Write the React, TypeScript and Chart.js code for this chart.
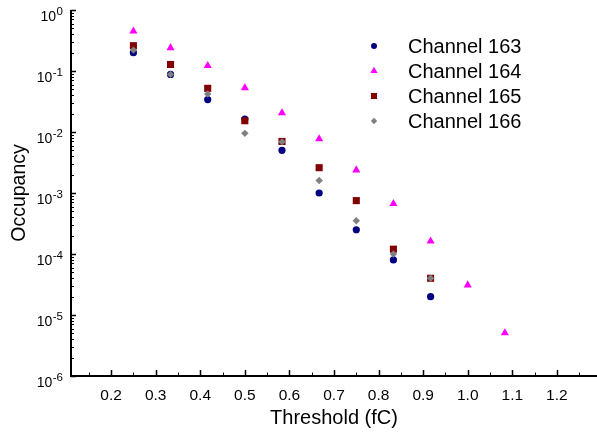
import React, { useEffect, useRef } from "react";
import { Chart, registerables } from "chart.js";

Chart.register(...registerables);

// ---- data ----
const thresholds = [0.25, 0.3333, 0.4167, 0.5, 0.5833, 0.6667, 0.75, 0.8333, 0.9167, 1.0, 1.0833];
const ch163 = [0.2, 0.088, 0.034, 0.0163, 0.005, 0.001, 0.00025, 0.00008, 0.00002];
const ch164 = [0.45, 0.24, 0.122, 0.053, 0.0205, 0.0077, 0.00238, 0.00067, 0.000162, 0.000031, 0.0000051];
const ch165 = [0.26, 0.128, 0.052, 0.0153, 0.007, 0.0026, 0.00075, 0.00012, 0.00004];
const ch166 = [0.22, 0.088, 0.042, 0.0095, 0.0069, 0.0016, 0.00035, 0.0001, 0.00004];

const seriesNames = ["Channel 163", "Channel 164", "Channel 165", "Channel 166"];
const seriesValues = [ch163, ch164, ch165, ch166];
const seriesColors = ["#000080", "#ff00ff", "#800000", "#808080"];
const seriesShapes = ["circle", "triangle", "rect", "rectRot"];

const xTickValues = [0.2, 0.3, 0.4, 0.5, 0.6, 0.7, 0.8, 0.9, 1.0, 1.1, 1.2];
const xTickLabels = ["0.2", "0.3", "0.4", "0.5", "0.6", "0.7", "0.8", "0.9", "1.0", "1.1", "1.2"];
const xMinorTicks = [0.15, 0.25, 0.35, 0.45, 0.55, 0.65, 0.75, 0.85, 0.95, 1.05, 1.15, 1.25];
const yDecadeExponents = [0, -1, -2, -3, -4, -5, -6];
const xTitle = "Threshold (fC)";
const yTitle = "Occupancy";

const FONT = '"Liberation Sans", Arial, sans-serif';

function drawShape(ctx: CanvasRenderingContext2D, shape: string, x: number, y: number, r: number) {
  ctx.beginPath();
  if (shape === "circle") {
    ctx.arc(x, y, r, 0, Math.PI * 2);
  } else if (shape === "triangle") {
    const h = r * Math.sqrt(3) / 2;
    ctx.moveTo(x, y - r);
    ctx.lineTo(x + h, y + r / 2);
    ctx.lineTo(x - h, y + r / 2);
    ctx.closePath();
  } else if (shape === "rect") {
    const s = r * Math.SQRT1_2;
    ctx.rect(x - s, y - s, 2 * s, 2 * s);
  } else {
    ctx.moveTo(x - r, y);
    ctx.lineTo(x, y - r);
    ctx.lineTo(x + r, y);
    ctx.lineTo(x, y + r);
    ctx.closePath();
  }
  ctx.fill();
}

const axesPlugin = {
  id: "customAxes",
  afterDraw(chart: any) {
    const { ctx, chartArea } = chart;
    const xs = chart.scales.x;
    const ys = chart.scales.y;
    ctx.save();
    ctx.strokeStyle = "#000";
    ctx.fillStyle = "#000";

    // axis lines
    ctx.lineWidth = 2;
    ctx.beginPath();
    ctx.moveTo(chartArea.left, chartArea.top);
    ctx.lineTo(chartArea.left, chartArea.bottom + 1);
    ctx.moveTo(chartArea.left - 1, chartArea.bottom);
    ctx.lineTo(chartArea.right, chartArea.bottom);
    ctx.stroke();

    // x ticks
    ctx.lineWidth = 1.5;
    ctx.beginPath();
    xTickValues.forEach((v) => {
      const px = Math.round(xs.getPixelForValue(v)) + 0.5;
      ctx.moveTo(px, chartArea.bottom);
      ctx.lineTo(px, chartArea.bottom - 6);
    });
    ctx.stroke();
    ctx.lineWidth = 1;
    ctx.beginPath();
    xMinorTicks.forEach((v) => {
      const px = Math.round(xs.getPixelForValue(v)) + 0.5;
      ctx.moveTo(px, chartArea.bottom);
      ctx.lineTo(px, chartArea.bottom - 3.5);
    });
    ctx.stroke();

    // y ticks
    ctx.lineWidth = 1.5;
    ctx.beginPath();
    yDecadeExponents.forEach((e) => {
      const py = Math.round(ys.getPixelForValue(Math.pow(10, e))) + 0.5;
      ctx.moveTo(chartArea.left, py);
      ctx.lineTo(chartArea.left + 5, py);
    });
    ctx.stroke();
    ctx.lineWidth = 1;
    ctx.beginPath();
    yDecadeExponents.forEach((e) => {
      if (e === 0) return;
      for (let m = 2; m <= 9; m++) {
        const py = Math.round(ys.getPixelForValue(m * Math.pow(10, e))) + 0.5;
        ctx.moveTo(chartArea.left, py);
        ctx.lineTo(chartArea.left + 3, py);
      }
    });
    ctx.stroke();

    // x tick labels
    ctx.font = `15.5px ${FONT}`;
    ctx.textAlign = "center";
    ctx.textBaseline = "alphabetic";
    xTickValues.forEach((v, i) => {
      const px = xs.getPixelForValue(v);
      ctx.fillText(xTickLabels[i], px, chartArea.bottom + 24);
    });

    // y tick labels 10^e
    const rightEdge = chartArea.left - 8;
    yDecadeExponents.forEach((e) => {
      const py = ys.getPixelForValue(Math.pow(10, e));
      const expStr = String(e);
      ctx.font = `11.5px ${FONT}`;
      ctx.textAlign = "right";
      const ew = ctx.measureText(expStr).width;
      ctx.fillText(expStr, rightEdge, py + 5);
      ctx.font = `14px ${FONT}`;
      ctx.fillText("10", rightEdge - ew - 0.5, py + 10.8);
    });

    // axis titles
    ctx.font = `20px ${FONT}`;
    ctx.textAlign = "center";
    ctx.fillText(xTitle, (chartArea.left + chartArea.right) / 2, 424);
    ctx.save();
    ctx.translate(25, (chartArea.top + chartArea.bottom) / 2);
    ctx.rotate(-Math.PI / 2);
    ctx.font = `19.5px ${FONT}`;
    ctx.fillText(yTitle, 0, 0);
    ctx.restore();

    // legend
    const legendRadii = [3, 4.2, 4.3, 3.2];
    seriesNames.forEach((name, i) => {
      const ly = 46 + i * 25;
      ctx.fillStyle = seriesColors[i];
      drawShape(ctx, seriesShapes[i], 374, ly, legendRadii[i]);
      ctx.fillStyle = "#000";
      ctx.font = `20px ${FONT}`;
      ctx.textAlign = "left";
      ctx.fillText(name, 408, ly + 6.5);
    });

    ctx.restore();
  },
};

export default function App() {
  const ref = useRef<HTMLCanvasElement>(null);
  useEffect(() => {
    const radii = [3.6, 4.7, 5.0, 3.7];
    const datasets = seriesNames.map((name, i) => ({
      label: name,
      data: seriesValues[i].map((v, j) => ({ x: thresholds[j], y: v })),
      pointStyle: seriesShapes[i] as any,
      pointRadius: radii[i],
      pointHoverRadius: radii[i],
      pointBackgroundColor: seriesColors[i],
      pointBorderColor: seriesColors[i],
      pointBorderWidth: 0,
      backgroundColor: seriesColors[i],
      borderColor: seriesColors[i],
      showLine: false,
      order: seriesNames.length - 1 - i,
    }));
    const chart = new Chart(ref.current!, {
      type: "scatter",
      data: { datasets },
      options: {
        animation: false,
        responsive: false,
        maintainAspectRatio: false,
        devicePixelRatio: 1,
        layout: { autoPadding: false, padding: { top: 10, left: 0, right: 0, bottom: 0 } },
        events: [],
        plugins: {
          legend: { display: false },
          tooltip: { enabled: false },
          title: { display: false },
        },
        scales: {
          x: {
            type: "linear",
            min: 0.11,
            max: 1.29,
            grid: { display: false, drawTicks: false },
            border: { display: false },
            ticks: { display: false },
            afterFit: (s: any) => {
              s.height = 56;
            },
          },
          y: {
            type: "logarithmic",
            min: 1e-6,
            max: 1,
            grid: { display: false, drawTicks: false },
            border: { display: false },
            ticks: { display: false },
            afterFit: (s: any) => {
              s.width = 71;
            },
          },
        },
      },
      plugins: [axesPlugin],
    });
    return () => chart.destroy();
  }, []);
  return (
    <div style={{ position: "absolute", left: 0, top: 0, width: 597, height: 432, background: "#fff" }}>
      <canvas ref={ref} width={597} height={432} style={{ display: "block", width: 597, height: 432 }} />
    </div>
  );
}
